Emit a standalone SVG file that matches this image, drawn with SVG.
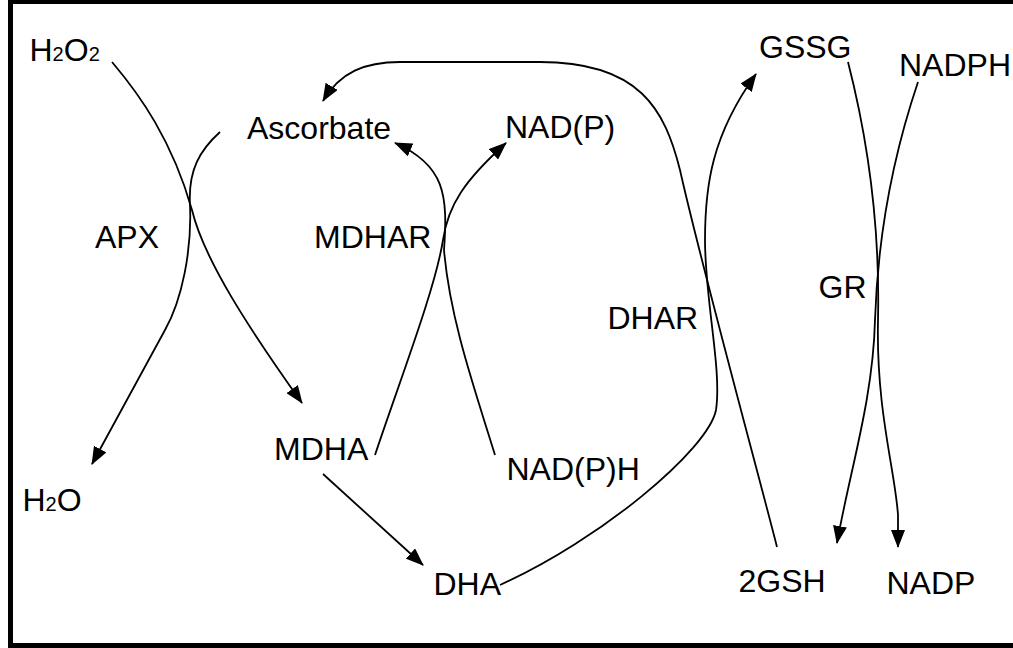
<svg xmlns="http://www.w3.org/2000/svg" width="1013" height="648" viewBox="0 0 1013 648">
<style>
text{font-family:"Liberation Sans",Arial,sans-serif;font-size:32px;fill:#000}
.sub{font-size:20px}
.c{fill:none;stroke:#000;stroke-width:1.8}
.a{marker-end:url(#ah)}
</style>
<defs>
<marker id="ah" markerUnits="userSpaceOnUse" markerWidth="18" markerHeight="14" viewBox="0 0 18 14" refX="17" refY="7" orient="auto">
<path d="M0,0 L18,7 L0,14 z" fill="#000"/>
</marker>
</defs>
<rect x="10.5" y="1.5" width="1010" height="644" fill="#fff" stroke="#000" stroke-width="5"/>
<g id="connectors">
<path class="c a" d="M112,62 C140,95 172,140 192,210 C204,260 250,330 302,403"/>
<path class="c a" d="M220,132 C200,150 188,170 190,205 C192,250 182,300 165,330 L92,464"/>
<path class="c a" d="M323,474 L423,565"/>
<path class="c a" d="M375,455 C400,380 435,290 443,240 C448,205 465,180 506,143"/>
<path class="c a" d="M495,455 C475,390 450,320 444,250 C448,195 445,165 395,143"/>
<path class="c a" d="M500,585 C600,540 708,450 716,410 C722,370 705,300 705,240 C705,185 712,135 756,74"/>
<path class="c a" d="M777,547 C760,480 700,260 680,170 C665,110 640,62 540,62 L400,62 C365,62 340,72 323,101"/>
<path class="c a" d="M848,62 C868,140 880,230 878,320 C876,410 895,470 898,515 L898,547"/>
<path class="c a" d="M918,82 C895,150 878,230 875,320 C873,400 850,470 837,543"/>
</g>
<g id="node-h2o2"><text x="29.5" y="61">H<tspan class="sub">2</tspan>O<tspan class="sub">2</tspan></text></g>
<g id="node-h2o"><text x="22.5" y="510.5">H<tspan class="sub">2</tspan>O</text></g>
<g id="node-ascorbate"><text x="247" y="138.5">Ascorbate</text></g>
<g id="node-nadp-ox"><text x="505" y="137.5">NAD(P)</text></g>
<g id="node-gssg"><text x="759" y="58.3">GSSG</text></g>
<g id="node-nadph"><text x="899" y="76">NADPH</text></g>
<g id="label-apx"><text x="95" y="248">APX</text></g>
<g id="label-mdhar"><text x="314" y="248">MDHAR</text></g>
<g id="label-gr"><text x="818.5" y="298">GR</text></g>
<g id="label-dhar"><text x="607.5" y="328.5">DHAR</text></g>
<g id="node-mdha"><text x="274" y="460">MDHA</text></g>
<g id="node-nadph-red"><text x="506.5" y="480">NAD(P)H</text></g>
<g id="node-dha"><text x="433.5" y="595">DHA</text></g>
<g id="node-2gsh"><text x="738.5" y="591.7">2GSH</text></g>
<g id="node-nadp"><text x="886.5" y="594">NADP</text></g>
</svg>
